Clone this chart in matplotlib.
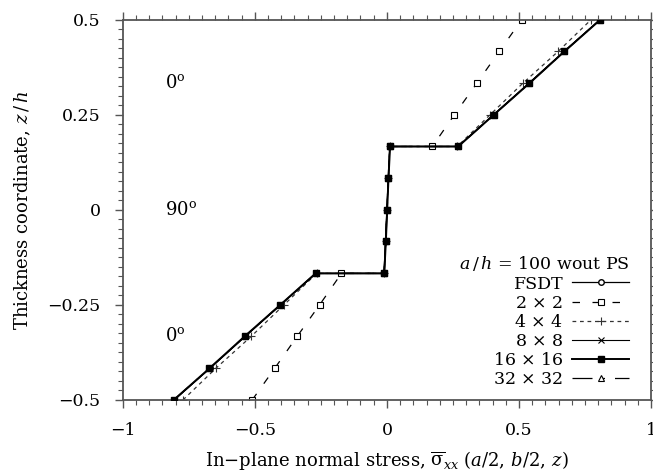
import matplotlib
matplotlib.use('Agg')
import matplotlib.pyplot as plt
from matplotlib.ticker import MultipleLocator

plt.rcParams['font.family'] = 'DejaVu Serif'
plt.rcParams['mathtext.fontset'] = 'dejavuserif'

# through-thickness positions z/h (interfaces repeated for the jump)
z = [-0.5, -0.417, -0.333, -0.25, -0.167, -0.167, -0.083, 0.0,
     0.083, 0.167, 0.167, 0.25, 0.333, 0.417, 0.5]

fsdt = [-0.806, -0.671, -0.537, -0.403, -0.269, -0.011, -0.005, 0.0,
        0.005, 0.011, 0.269, 0.403, 0.537, 0.671, 0.806]
m2 = [-0.51, -0.425, -0.34, -0.255, -0.172, -0.010, -0.005, 0.0,
      0.005, 0.010, 0.172, 0.255, 0.34, 0.425, 0.51]
m4 = [-0.772, -0.648, -0.514, -0.39, -0.266, -0.011, -0.005, 0.0,
      0.005, 0.011, 0.266, 0.39, 0.514, 0.648, 0.772]
m8 = [-0.805, -0.670, -0.537, -0.403, -0.269, -0.011, -0.005, 0.0,
      0.005, 0.011, 0.269, 0.403, 0.537, 0.670, 0.805]
m16 = [-0.807, -0.672, -0.539, -0.404, -0.270, -0.010, -0.004, 0.001,
       0.006, 0.012, 0.270, 0.404, 0.539, 0.672, 0.807]
m32 = [-0.807, -0.672, -0.539, -0.404, -0.270, -0.010, -0.004, 0.001,
       0.006, 0.012, 0.270, 0.404, 0.539, 0.672, 0.807]

labels = ['FSDT', r'2 $\times$ 2', r'4 $\times$ 4', r'8 $\times$ 8',
          r'16 $\times$ 16', r'32 $\times$ 32']

fig = plt.figure(figsize=(6.53, 4.75), dpi=100)
ax = fig.add_axes([0.188, 0.158, 0.809, 0.8])

k = 'black'
ax.plot(fsdt, z, '-', color=k, lw=0.9, marker='o', ms=4, mfc='white', zorder=3, label=labels[0])
ax.plot(m2, z, color=k, lw=0.9, dashes=(6, 10), marker='s', ms=4.5, mfc='white', mew=0.8, zorder=2, label=labels[1])
ax.plot(m4, z, color='#333333', lw=0.9, dashes=(3, 3), marker='+', ms=6, mew=0.8, zorder=2, label=labels[2])
ax.plot(m8, z, '-', color=k, lw=0.8, marker='x', ms=4.5, mew=0.8, zorder=3, label=labels[3])
ax.plot(m32, z, color=k, lw=0.9, dashes=(16, 8, 2, 8), marker='^', ms=4, mfc='white', mew=0.8, zorder=3, label=labels[5])
ax.plot(m16, z, '-', color=k, lw=1.4, marker='s', ms=5, zorder=4, label=labels[4])

ax.set_xlim(-1, 1)
ax.set_ylim(-0.5, 0.5)
ax.set_xticks([-1, -0.5, 0, 0.5, 1])
ax.set_xticklabels(['\u22121', '\u22120.5', '0', '0.5', '1'])
ax.set_yticks([-0.5, -0.25, 0, 0.25, 0.5])
ax.set_yticklabels(['\u22120.5', '\u22120.25', '0', '0.25', '0.5'])
ax.xaxis.set_minor_locator(MultipleLocator(0.05))
ax.yaxis.set_minor_locator(MultipleLocator(0.025))
ax.tick_params(which='both', direction='out', top=True, right=True,
               colors='#555555', labelcolor='black', labelsize=12.5)
ax.tick_params(which='major', length=6, width=1.0, pad=10)
ax.tick_params(which='minor', length=3.5, width=0.8)
for s in ax.spines.values():
    s.set_color('#555555')
    s.set_linewidth(1.3)

ax.set_xlabel(r'In$-$plane normal stress, $\overline{\mathrm{\sigma}}_{xx}$ $(a/2,\, b/2,\, z)$',
              fontsize=13, labelpad=7)
ax.set_ylabel(r'Thickness coordinate, $z\,/\,h$', fontsize=13, labelpad=10)

ax.text(-0.84, 0.333, r'0$^{\rm o}$', fontsize=13, va='center')
ax.text(-0.84, 0.0, r'90$^{\rm o}$', fontsize=13, va='center')
ax.text(-0.84, -0.333, r'0$^{\rm o}$', fontsize=13, va='center')

handles, labs = ax.get_legend_handles_labels()
order = [0, 1, 2, 3, 5, 4]
leg = ax.legend([handles[i] for i in order], [labs[i] for i in order],
                loc='lower right', bbox_to_anchor=(0.985, -0.005), frameon=False,
                markerfirst=False, title=r'$a\,/\,h$ = 100 wout PS',
                fontsize=12.5, title_fontsize=12.5, handlelength=3.3,
                handletextpad=0.5, labelspacing=0.12, alignment='right',
                borderpad=0.3)

fig.savefig('out.png', dpi=100)
